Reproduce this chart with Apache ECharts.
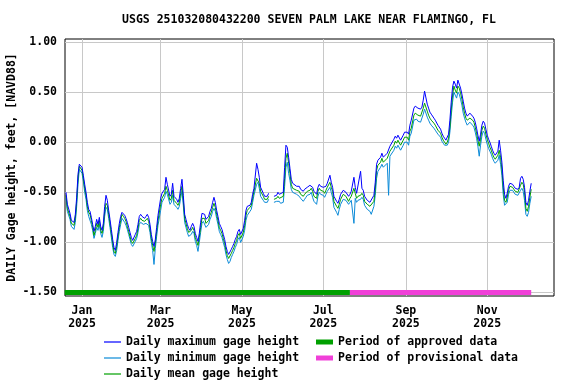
<!DOCTYPE html>
<html>
<head>
<meta charset="utf-8">
<script src="https://cdn.jsdelivr.net/npm/echarts@6/dist/echarts.min.js"></script>
<style>
html,body{margin:0;padding:0;background:#fff;}
#chart{width:576px;height:384px;}
</style>
</head>
<body>
<div id="chart"></div>
<script>
const titleText = 'USGS 251032080432200 SEVEN PALM LAKE NEAR FLAMINGO, FL';
const yAxisTitle = 'DAILY Gage height, feet, [NAVD88]';
const yTicks = [-1.5, -1.0, -0.5, 0.0, 0.5, 1.0];
const xTickDates = ['2025-01-01', '2025-03-01', '2025-05-01', '2025-07-01', '2025-09-01', '2025-11-01'];
const monthNames = ['Jan','Feb','Mar','Apr','May','Jun','Jul','Aug','Sep','Oct','Nov','Dec'];
const seriesNames = ['Daily maximum gage height', 'Daily minimum gage height', 'Daily mean gage height'];
const periodNames = ['Period of approved data', 'Period of provisional data'];
const approvedPeriod = ['2024-12-19', '2025-07-21'];
const provisionalPeriod = ['2025-07-21', '2025-12-04'];
const periodLevel = -1.5;

// day offsets from 2025-01-01
const dayOffsets = [
-12,-11,-9,-8,-6,-5,-4,-3,-2,-1,
0,1,2,3,4,5,6,7,8,9,
10,11,12,13,14,15,16,17,18,19,
20,21,22,23,24,25,26,27,28,29,
30,31,32,33,34,35,36,37,38,39,
40,41,42,43,44,45,46,47,48,49,
50,51,52,53,54,55,56,57,59,60,
62,63,64,66,67,68,69,71,72,73,
74,75,76,77,78,79,80,81,82,83,
84,85,86,87,88,89,90,91,92,93,
94,95,96,97,98,99,100,101,102,103,
104,105,106,107,108,109,110,111,112,113,
114,115,116,117,118,119,120,121,122,123,
124,126,127,128,129,131,132,133,134,136,
137,138,139,140,142,144,146,147,148,149,
151,152,153,154,155,156,157,158,159,161,
162,163,164,166,167,168,169,171,172,173,
174,176,177,178,179,181,182,183,184,186,
187,188,189,191,192,193,194,196,197,198,
200,201,202,204,205,206,207,209,210,211,
212,214,215,216,217,219,220,221,222,224,
225,226,227,229,230,231,232,234,235,236,
237,239,240,241,242,244,245,246,247,249,
250,251,252,254,255,256,257,259,260,261,
262,264,265,266,267,269,270,271,272,273,
274,275,276,277,278,279,280,281,282,283,
284,285,286,287,288,289,290,291,292,293,
294,295,296,297,298,299,300,301,302,303,
304,305,306,307,308,309,310,311,312,313,
314,315,316,317,318,319,320,321,322,323,
324,325,326,327,328,329,330,331,332,333,
334,335,336,337
];

const meanVals = [
-0.53,-0.66,-0.74,-0.81,-0.83,-0.76,-0.59,-0.36,-0.24,-0.24,
-0.28,-0.36,-0.46,-0.53,-0.64,-0.70,-0.72,-0.78,-0.85,-0.93,
-0.88,-0.81,-0.85,-0.78,-0.88,-0.91,-0.85,-0.69,-0.61,-0.63,
-0.72,-0.81,-0.91,-1.01,-1.09,-1.11,-1.04,-0.94,-0.85,-0.78,
-0.72,-0.74,-0.76,-0.79,-0.84,-0.89,-0.94,-0.99,-1.01,-1.00,
-0.96,-0.93,-0.86,-0.78,-0.76,-0.78,-0.78,-0.79,-0.78,-0.76,
-0.79,-0.86,-0.96,-1.03,-1.09,-1.01,-0.89,-0.78,-0.62,-0.56,
-0.51,-0.44,-0.48,-0.58,-0.56,-0.48,-0.58,-0.61,-0.63,-0.60,
-0.51,-0.44,-0.58,-0.76,-0.81,-0.86,-0.90,-0.91,-0.88,-0.85,
-0.88,-0.95,-0.99,-1.03,-0.95,-0.85,-0.76,-0.75,-0.76,-0.81,
-0.81,-0.78,-0.73,-0.70,-0.65,-0.61,-0.65,-0.72,-0.78,-0.85,
-0.88,-0.91,-0.96,-1.01,-1.08,-1.13,-1.16,-1.15,-1.11,-1.08,
-1.05,-1.01,-0.98,-0.93,-0.91,-0.96,-0.95,-0.90,-0.83,-0.73,
-0.68,-0.65,-0.63,-0.56,-0.49,-0.36,-0.35,-0.41,-0.49,-0.54,
-0.57,-0.56,-0.57,-0.54,null,-0.57,-0.56,-0.54,-0.56,-0.57,
-0.54,-0.36,-0.16,-0.11,-0.21,-0.31,-0.42,-0.46,-0.46,-0.48,
-0.48,-0.49,-0.52,-0.54,-0.52,-0.51,-0.49,-0.48,-0.46,-0.49,
-0.54,-0.56,-0.49,-0.46,-0.48,-0.49,-0.51,-0.48,-0.45,-0.40,
-0.45,-0.49,-0.59,-0.64,-0.66,-0.62,-0.57,-0.52,-0.51,-0.54,
-0.59,-0.56,-0.54,-0.46,-0.51,-0.56,-0.54,-0.53,-0.51,-0.53,
-0.59,-0.62,-0.63,-0.64,-0.64,-0.59,-0.47,-0.28,-0.23,-0.20,
-0.16,-0.20,-0.20,-0.16,-0.15,-0.09,-0.08,-0.03,0.01,-0.01,
0.02,-0.03,-0.03,0.02,0.05,0.05,0.02,0.11,0.14,0.27,
0.29,0.29,0.27,0.26,0.27,0.34,0.39,0.31,0.27,0.24,
0.22,0.19,0.17,0.16,0.12,0.09,0.05,0.02,0.00,-0.02,
0.00,0.04,0.15,0.32,0.47,0.56,0.52,0.49,0.56,0.54,
0.49,0.43,0.35,0.29,0.24,0.22,0.23,0.24,0.24,0.22,
0.20,0.15,0.09,0.02,-0.04,0.03,0.12,0.16,0.14,0.08,
0.03,-0.01,-0.05,-0.08,-0.12,-0.15,-0.17,-0.18,-0.13,-0.08,
-0.15,-0.27,-0.45,-0.58,-0.60,-0.55,-0.48,-0.44,-0.44,-0.45,
-0.47,-0.49,-0.50,-0.50,-0.49,-0.43,-0.40,-0.42,-0.50,-0.66,
-0.69,-0.64,-0.55,-0.47
];

const maxVals = [
-0.50,-0.62,-0.71,-0.78,-0.80,-0.72,-0.55,-0.32,-0.22,-0.22,
-0.25,-0.33,-0.42,-0.50,-0.60,-0.67,-0.69,-0.75,-0.82,-0.89,
-0.84,-0.77,-0.82,-0.75,-0.84,-0.88,-0.81,-0.64,-0.53,-0.58,
-0.68,-0.77,-0.87,-0.97,-1.05,-1.08,-1.00,-0.90,-0.81,-0.74,
-0.70,-0.71,-0.73,-0.76,-0.80,-0.85,-0.90,-0.95,-0.98,-0.97,
-0.92,-0.89,-0.82,-0.74,-0.72,-0.74,-0.75,-0.76,-0.74,-0.72,
-0.75,-0.82,-0.92,-0.99,-1.04,-0.97,-0.85,-0.73,-0.56,-0.51,
-0.47,-0.35,-0.42,-0.54,-0.52,-0.41,-0.54,-0.57,-0.60,-0.56,
-0.46,-0.37,-0.53,-0.72,-0.77,-0.82,-0.86,-0.88,-0.84,-0.81,
-0.84,-0.91,-0.95,-0.99,-0.91,-0.80,-0.71,-0.71,-0.72,-0.77,
-0.77,-0.74,-0.69,-0.66,-0.60,-0.55,-0.60,-0.68,-0.74,-0.81,
-0.84,-0.87,-0.92,-0.97,-1.04,-1.09,-1.12,-1.11,-1.07,-1.04,
-1.01,-0.97,-0.94,-0.89,-0.87,-0.92,-0.91,-0.86,-0.78,-0.68,
-0.64,-0.63,-0.60,-0.52,-0.46,-0.21,-0.27,-0.35,-0.45,-0.51,
-0.54,-0.53,-0.54,-0.51,null,-0.54,-0.53,-0.50,-0.52,-0.53,
-0.50,-0.25,-0.03,-0.05,-0.15,-0.26,-0.37,-0.41,-0.42,-0.44,
-0.44,-0.44,-0.47,-0.49,-0.47,-0.46,-0.45,-0.43,-0.42,-0.45,
-0.49,-0.52,-0.45,-0.42,-0.44,-0.45,-0.46,-0.44,-0.41,-0.33,
-0.40,-0.45,-0.54,-0.59,-0.61,-0.57,-0.52,-0.48,-0.47,-0.50,
-0.54,-0.52,-0.49,-0.35,-0.45,-0.51,-0.50,-0.29,-0.46,-0.48,
-0.54,-0.58,-0.59,-0.60,-0.60,-0.53,-0.40,-0.22,-0.18,-0.15,
-0.11,-0.15,-0.15,-0.11,-0.10,-0.04,-0.03,0.03,0.06,0.04,
0.07,0.02,0.02,0.07,0.10,0.10,0.08,0.17,0.22,0.34,
0.36,0.36,0.34,0.33,0.35,0.42,0.51,0.38,0.34,0.30,
0.28,0.24,0.22,0.21,0.17,0.13,0.09,0.06,0.04,0.02,
0.03,0.08,0.22,0.40,0.55,0.61,0.58,0.54,0.62,0.61,
0.54,0.48,0.41,0.34,0.29,0.26,0.27,0.29,0.28,0.26,
0.24,0.20,0.14,0.07,0.01,0.08,0.17,0.21,0.19,0.13,
0.07,0.03,0.00,-0.04,-0.08,-0.11,-0.13,-0.14,-0.09,0.02,
-0.08,-0.20,-0.38,-0.52,-0.56,-0.51,-0.44,-0.41,-0.41,-0.42,
-0.44,-0.46,-0.47,-0.47,-0.45,-0.36,-0.34,-0.37,-0.45,-0.60,
-0.63,-0.58,-0.49,-0.41
];

const minVals = [
-0.56,-0.69,-0.77,-0.84,-0.87,-0.80,-0.64,-0.42,-0.27,-0.26,
-0.31,-0.39,-0.50,-0.57,-0.68,-0.74,-0.75,-0.82,-0.88,-0.96,
-0.91,-0.85,-0.88,-0.82,-0.91,-0.95,-0.89,-0.74,-0.65,-0.67,
-0.76,-0.85,-0.95,-1.05,-1.12,-1.14,-1.08,-0.98,-0.89,-0.82,
-0.76,-0.77,-0.80,-0.83,-0.87,-0.92,-0.97,-1.02,-1.04,-1.03,
-0.99,-0.96,-0.90,-0.82,-0.80,-0.81,-0.82,-0.83,-0.81,-0.80,
-0.83,-0.90,-1.00,-1.08,-1.22,-1.06,-0.94,-0.83,-0.68,-0.60,
-0.55,-0.49,-0.52,-0.62,-0.60,-0.53,-0.62,-0.65,-0.67,-0.64,
-0.56,-0.49,-0.63,-0.80,-0.85,-0.90,-0.94,-0.95,-0.92,-0.89,
-0.91,-0.99,-1.03,-1.09,-1.00,-0.90,-0.81,-0.79,-0.80,-0.85,
-0.86,-0.82,-0.77,-0.74,-0.69,-0.66,-0.69,-0.76,-0.82,-0.89,
-0.92,-0.95,-1.00,-1.05,-1.12,-1.17,-1.21,-1.19,-1.15,-1.12,
-1.09,-1.05,-1.02,-0.97,-0.95,-1.00,-0.99,-0.94,-0.88,-0.78,
-0.73,-0.69,-0.67,-0.60,-0.53,-0.42,-0.40,-0.46,-0.54,-0.58,
-0.60,-0.59,-0.60,-0.57,null,-0.60,-0.59,-0.58,-0.59,-0.61,
-0.60,-0.44,-0.25,-0.20,-0.31,-0.38,-0.47,-0.50,-0.50,-0.52,
-0.52,-0.54,-0.56,-0.59,-0.57,-0.55,-0.53,-0.52,-0.50,-0.55,
-0.59,-0.62,-0.54,-0.50,-0.52,-0.53,-0.55,-0.52,-0.49,-0.45,
-0.50,-0.55,-0.65,-0.70,-0.73,-0.67,-0.62,-0.57,-0.56,-0.58,
-0.62,-0.60,-0.58,-0.81,-0.56,-0.60,-0.58,-0.57,-0.55,-0.57,
-0.63,-0.67,-0.68,-0.69,-0.72,-0.64,-0.53,-0.36,-0.29,-0.25,
-0.22,-0.25,-0.26,-0.21,-0.53,-0.14,-0.13,-0.08,-0.04,-0.06,
-0.03,-0.08,-0.08,-0.03,0.00,0.00,-0.03,0.06,0.09,0.22,
0.22,0.23,0.21,0.20,0.21,0.28,0.33,0.25,0.22,0.19,
0.17,0.14,0.12,0.11,0.08,0.05,0.01,-0.01,-0.03,-0.04,
-0.03,0.00,0.10,0.26,0.40,0.50,0.47,0.44,0.50,0.48,
0.43,0.37,0.29,0.24,0.20,0.17,0.18,0.20,0.19,0.17,
0.15,0.10,0.04,-0.04,-0.14,-0.03,0.06,0.11,0.09,0.03,
-0.02,-0.06,-0.09,-0.12,-0.16,-0.19,-0.21,-0.22,-0.18,-0.13,
-0.22,-0.33,-0.52,-0.63,-0.64,-0.60,-0.52,-0.48,-0.47,-0.48,
-0.50,-0.52,-0.53,-0.53,-0.52,-0.48,-0.46,-0.49,-0.58,-0.72,
-0.74,-0.70,-0.61,-0.54
];

const DAY = 86400000;
const baseTime = Date.UTC(2025, 0, 1);
const toTime = s => { const p = s.split('-').map(Number); return Date.UTC(p[0], p[1]-1, p[2]); };
const pairs = vals => dayOffsets.map((d, i) => [baseTime + d * DAY, vals[i]]);
const xMin = baseTime - 12.76 * DAY;
const xMax = baseTime + 354.1 * DAY;
const xTicks = xTickDates.map(toTime);

const FONT = 'DejaVu Sans Mono';
const txt = { fontFamily: FONT, fontWeight: 'bold', fontSize: 11.5, color: '#000' };

const colors = { max: '#0000ff', min: '#0a8ad8', mean: '#00a000', approved: '#00a000', provisional: '#f040d8' };

const legendBase = {
  orient: 'vertical', top: 335, padding: 0, height: 60, itemWidth: 17, itemHeight: 14, itemGap: 2, itemTextGap: 6,
  textStyle: Object.assign({ lineHeight: 14 }, txt), selectedMode: false
};

const chart = echarts.init(document.getElementById('chart'), null, { renderer: 'canvas' });
chart.setOption({
  animation: false,
  backgroundColor: '#ffffff',
  title: {
    text: titleText, left: 309, top: 14, textAlign: 'center', padding: 0,
    textStyle: Object.assign({}, txt)
  },
  grid: { left: 65, right: 22, top: 39, bottom: 88, outerBoundsMode: 'none', containLabel: false,
          show: true, borderColor: '#000', borderWidth: 1, backgroundColor: 'transparent' },
  legend: [
    Object.assign({}, legendBase, {
      left: 104,
      data: seriesNames.map(n => ({ name: n, icon: 'path://M0,0L17,0L17,1.2L0,1.2Z' }))
    }),
    Object.assign({}, legendBase, {
      left: 316,
      data: periodNames.map(n => ({ name: n, icon: 'path://M0,0L17,0L17,5L0,5Z' }))
    })
  ],
  xAxis: {
    type: 'value', min: xMin, max: xMax,
    axisLine: { show: false },
    axisTick: { show: false, customValues: xTicks },
    axisLabel: {
      customValues: xTicks, margin: 9, lineHeight: 13,
      fontFamily: FONT, fontWeight: 'bold', fontSize: 11.5, color: '#000',
      formatter: v => monthNames[new Date(v).getUTCMonth()] + '\n' + new Date(v).getUTCFullYear()
    },
    splitLine: { show: true, lineStyle: { color: '#c8c8c8', width: 1 } }
  },
  yAxis: {
    type: 'value', min: -1.535, max: 1.03,
    name: yAxisTitle, nameLocation: 'middle', nameGap: 47, nameRotate: 90, nameMoveOverlap: false,
    nameTextStyle: Object.assign({}, txt),
    axisLine: { show: false },
    axisTick: { show: false, customValues: yTicks },
    axisLabel: {
      customValues: yTicks, margin: 8,
      fontFamily: FONT, fontWeight: 'bold', fontSize: 11.5, color: '#000',
      formatter: v => v.toFixed(2)
    },
    splitLine: { show: true, lineStyle: { color: '#c8c8c8', width: 1 } }
  },
  series: [
    { name: seriesNames[1], type: 'line', data: pairs(minVals), symbol: 'none', lineStyle: { width: 1, color: colors.min }, itemStyle: { color: colors.min } },
    { name: seriesNames[2], type: 'line', data: pairs(meanVals), symbol: 'none', lineStyle: { width: 1, color: colors.mean }, itemStyle: { color: colors.mean } },
    { name: seriesNames[0], type: 'line', data: pairs(maxVals), symbol: 'none', lineStyle: { width: 1, color: colors.max }, itemStyle: { color: colors.max } },
    { name: periodNames[0], type: 'line', data: approvedPeriod.map(s => [toTime(s), periodLevel]), symbol: 'none', lineStyle: { width: 5, color: colors.approved, cap: 'butt' }, itemStyle: { color: colors.approved } },
    { name: periodNames[1], type: 'line', data: provisionalPeriod.map(s => [toTime(s), periodLevel]), symbol: 'none', lineStyle: { width: 5, color: colors.provisional, cap: 'butt' }, itemStyle: { color: colors.provisional } }
  ]
});
</script>
</body>
</html>
